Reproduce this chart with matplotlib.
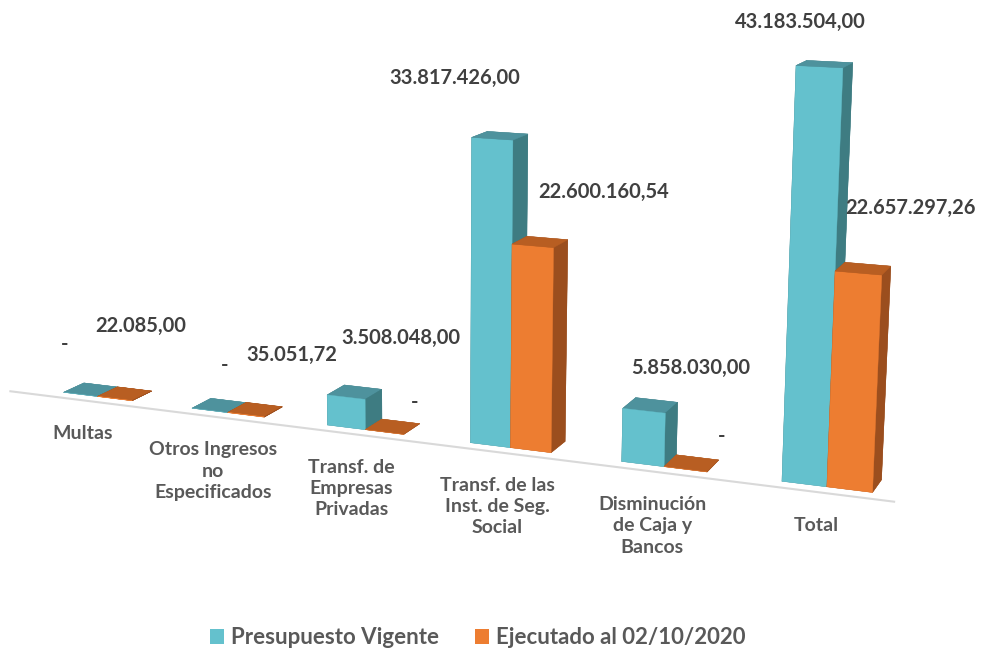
import numpy as np
import matplotlib
matplotlib.use("Agg")
import matplotlib.pyplot as plt
from matplotlib.patches import Patch
from matplotlib.transforms import offset_copy
from mpl_toolkits.mplot3d import proj3d

categories = ["Multas", "Otros Ingresos\nno\nEspecificados", "Transf. de\nEmpresas\nPrivadas",
              "Transf. de las\nInst. de Seg.\nSocial", "Disminución\nde Caja y\nBancos", "Total"]
series = ["Presupuesto Vigente", "Ejecutado al 02/10/2020"]
presupuesto = [0.0, 0.0, 3508048.00, 33817426.00, 5858030.00, 43183504.00]
ejecutado = [22085.00, 35051.72, 0.0, 22600160.54, 0.0, 22657297.26]

# label placement (pixel offsets from the top-front centre of each bar)
pres_label_offsets = [(-16, 50), (15, 45), (55, 59), (-37, 61), (47, 43), (-19, 45)]
ejec_label_offsets = [(26, 72), (46, 60), (30, 30), (71, 54), (36, 33), (52, 65)]


def fmt(v):
    if v == 0:
        return "-"
    s = f"{v:,.2f}"
    return s.replace(",", "X").replace(".", ",").replace("X", ".")


plt.rcParams["font.family"] = ["Lato", "DejaVu Sans"]

# face order for bar3d: bottom, top, front(-y), back(+y), left(-x), right(+x)
TEAL = ["#4e929d", "#4e929d", "#64c1cd", "#3e7c82", "#3e7c82", "#3e7c82"]
ORANGE = ["#b85e22", "#b85e22", "#ed7d31", "#9b4e1e", "#9b4e1e", "#9b4e1e"]

fig = plt.figure(figsize=(9.95, 6.49), dpi=100)
ax = fig.add_axes([-0.123, -0.2103, 1.0804, 1.6564], projection="3d")
ax.computed_zorder = False

n = len(categories)
x = np.arange(n, dtype=float)
w = 0.27
d = 0.26
floor_y = -0.12
for i in range(n):
    ax.bar3d(x[i] - w, 0, 0, w, d, presupuesto[i], color=TEAL, shade=False,
             edgecolor=TEAL, linewidth=0.3, zorder=10 + 2 * i)
    ax.bar3d(x[i], 0, 0, w, d, ejecutado[i], color=ORANGE, shade=False,
             edgecolor=ORANGE, linewidth=0.3, zorder=11 + 2 * i)

ax.plot([-0.62, 5.42], [floor_y, floor_y], [0, 0], color="#d9d9d9", lw=1.5, zorder=1)

zmax = 46e6
ax.set_xlim(-0.7, 5.6)
ax.set_ylim(-0.5, 0.5)
ax.set_zlim(0, zmax)
ax.set_box_aspect((6.3, 1.0, 2.65), zoom=1.0)
ax.view_init(elev=11.5, azim=-67)
ax.set_proj_type("persp", focal_length=0.373)
ax.set_axis_off()

# project the 3D anchor points so the labels are plain 2D texts
M = ax.get_proj()


def anchor(px, py, pz):
    tx, ty, _ = proj3d.proj_transform(px, py, pz, M)
    return float(tx), float(ty)


val_kw = dict(fontsize=14.5, fontweight="bold", color="#404040", ha="center", va="center", zorder=50)
for i in range(n):
    dx, dy = pres_label_offsets[i]
    ax.text2D(*anchor(x[i] - w / 2, 0, presupuesto[i]), fmt(presupuesto[i]),
              transform=offset_copy(ax.transData, fig=fig, x=dx, y=dy, units="dots"), **val_kw)
    dx, dy = ejec_label_offsets[i]
    ax.text2D(*anchor(x[i] + w / 2, 0, ejecutado[i]), fmt(ejecutado[i]),
              transform=offset_copy(ax.transData, fig=fig, x=dx, y=dy, units="dots"), **val_kw)
    ax.text2D(*anchor(x[i], floor_y, 0), categories[i], fontsize=14, fontweight="bold",
              color="#595959", ha="center", va="top", linespacing=1.3, zorder=50,
              transform=offset_copy(ax.transData, fig=fig, x=-6, y=-24, units="dots"))

handles = [Patch(facecolor="#64c1cd"), Patch(facecolor="#ed7d31")]
leg = fig.legend(handles, series, loc="lower center", ncol=2, frameon=False,
                 bbox_to_anchor=(0.48, -0.03), handlelength=0.65, handleheight=0.65,
                 handletextpad=0.3, columnspacing=1.6,
                 prop=dict(family=["Lato", "DejaVu Sans"], size=16, weight="bold"))
for t in leg.get_texts():
    t.set_color("#595959")

fig.savefig("out.png", dpi=100)
